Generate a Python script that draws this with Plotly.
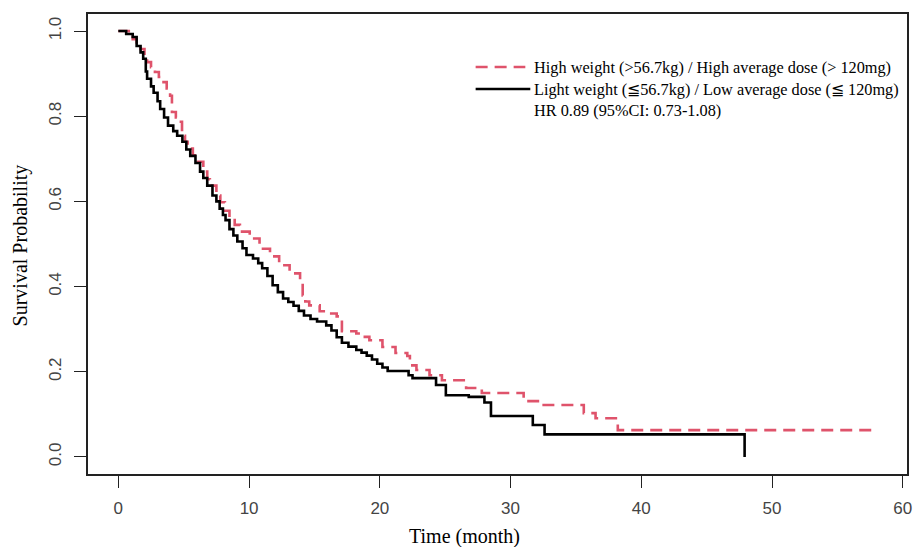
import plotly.graph_objects as go

# Kaplan-Meier step data (time in months, survival after the step)
light_time = [0, 0.6, 1.1, 1.4, 1.7, 1.9, 2.1, 2.2, 2.5, 2.7, 3.0, 3.2, 3.5, 3.8, 4.2, 4.5, 4.9,
              5.2, 5.5, 5.9, 6.25, 6.5, 6.8, 7.2, 7.5, 7.75, 8.0, 8.2, 8.5, 8.8, 9.1, 9.5, 9.8,
              10.3, 10.7, 11.0, 11.4, 11.8, 12.2, 12.6, 13.0, 13.4, 13.8, 14.2, 14.7, 15.2, 15.9,
              16.3, 16.7, 17.1, 17.6, 18.2, 18.6, 19.0, 19.4, 19.8, 20.2, 20.6, 22.2, 22.5, 24.3,
              25.05, 26.8, 28.0, 28.5, 31.7, 32.6, 47.9]
light_surv = [1.0, 0.993, 0.986, 0.965, 0.95, 0.935, 0.905, 0.888, 0.87, 0.855, 0.835, 0.817, 0.797,
              0.778, 0.765, 0.754, 0.74, 0.722, 0.707, 0.69, 0.67, 0.655, 0.637, 0.614, 0.6, 0.583,
              0.568, 0.556, 0.535, 0.52, 0.506, 0.49, 0.474, 0.466, 0.455, 0.443, 0.425, 0.403,
              0.387, 0.372, 0.364, 0.355, 0.343, 0.332, 0.324, 0.318, 0.309, 0.297, 0.281, 0.268,
              0.259, 0.251, 0.245, 0.238, 0.229, 0.219, 0.21, 0.202, 0.192, 0.185, 0.169, 0.145,
              0.141, 0.128, 0.096, 0.075, 0.053, 0.0]

high_time = [0, 0.8, 1.1, 1.4, 1.7, 2.0, 2.2, 2.5, 2.8, 3.1, 3.35, 3.7, 3.96, 4.1, 4.4, 4.6, 4.87,
             5.1, 5.3, 5.7, 6.0, 6.5, 6.8, 7.0, 7.5, 7.8, 8.15, 8.5, 8.9, 9.3, 10.05, 10.8, 11.6,
             12.3, 13.1, 13.9, 14.1, 14.3, 14.6, 15.4, 16.1, 16.7, 17.1, 18.2, 18.7, 19.2, 20.2,
             21.2, 22.1, 22.3, 22.8, 23.8, 24.75, 26.6, 27.8, 31.0, 32.4, 35.6, 36.5, 38.2, 58.0]
high_surv = [1.0, 0.99, 0.981, 0.97, 0.958, 0.94, 0.927, 0.915, 0.904, 0.892, 0.88, 0.865, 0.848,
             0.81, 0.797, 0.787, 0.754, 0.74, 0.724, 0.708, 0.693, 0.67, 0.652, 0.637, 0.614, 0.598,
             0.578, 0.56, 0.545, 0.529, 0.513, 0.489, 0.471, 0.45, 0.431, 0.412, 0.379, 0.365,
             0.356, 0.342, 0.337, 0.33, 0.295, 0.29, 0.282, 0.274, 0.258, 0.244, 0.237, 0.215,
             0.204, 0.192, 0.18, 0.162, 0.15, 0.131, 0.122, 0.103, 0.091, 0.063, 0.063]

x_ticks = [0, 10, 20, 30, 40, 50, 60]
y_ticks = [0.0, 0.2, 0.4, 0.6, 0.8, 1.0]
y_tick_labels = ["0.0", "0.2", "0.4", "0.6", "0.8", "1.0"]

legend_labels = ["High weight (>56.7kg) / High average dose (> 120mg)",
                 "Light weight (≦56.7kg) / Low average dose (≦ 120mg)",
                 "HR 0.89 (95%CI: 0.73-1.08)"]

RED = "#DF536B"
W, H = 914, 547
ML, MR, MT, MB = 88, 2, 14, 73
PW, PH = W - ML - MR, H - MT - MB

fig = go.Figure()
fig.add_trace(go.Scatter(x=high_time, y=high_surv, mode="lines", line_shape="hv",
                         line=dict(color=RED, width=2.6, dash="12px,7px"), showlegend=False))
fig.add_trace(go.Scatter(x=light_time, y=light_surv, mode="lines", line_shape="hv",
                         line=dict(color="black", width=2.6), showlegend=False))

axis_common = dict(showgrid=False, zeroline=False, showline=True, mirror=True,
                   linecolor="#222", linewidth=1.5, ticks="outside", ticklen=12,
                   tickwidth=1.3, tickcolor="#222", ticklabeloverflow="allow",
                   tickfont=dict(family="Liberation Sans, Arial", size=17, color="#444"))

fig.update_xaxes(range=[-2.32, 60.32], tickvals=x_ticks, ticklabelstandoff=6, **axis_common)
fig.update_yaxes(range=[-0.04, 1.04], tickvals=y_ticks, ticktext=y_tick_labels,
                 tickangle=-90, ticklabelstandoff=6, **axis_common)

def pxx(p):
    return (p - ML) / PW

def pxy(p):
    return 1 - (p - MT) / PH

# legend sample lines (paper coordinates)
fig.add_shape(type="line", xref="paper", yref="paper",
              x0=pxx(478), x1=pxx(528), y0=pxy(67), y1=pxy(67),
              line=dict(color=RED, width=2.6, dash="12px,7px"))
fig.add_shape(type="line", xref="paper", yref="paper",
              x0=pxx(478), x1=pxx(533), y0=pxy(89), y1=pxy(89),
              line=dict(color="black", width=2.6))

for lab, yp in zip(legend_labels, [67, 89, 110]):
    fig.add_annotation(text=lab, xref="paper", yref="paper",
                       x=pxx(535), y=pxy(yp),
                       xanchor="left", yanchor="middle", showarrow=False,
                       font=dict(family="Liberation Serif, Times New Roman", size=16.3, color="black"))

# axis titles
fig.add_annotation(text="Time (month)", xref="paper", yref="paper",
                   x=pxx(467), y=pxy(536),
                   xanchor="center", yanchor="middle", showarrow=False,
                   font=dict(family="Liberation Serif, Times New Roman", size=20, color="black"))
fig.add_annotation(text="Survival Probability", xref="paper", yref="paper",
                   x=pxx(20), y=pxy(245),
                   xanchor="center", yanchor="middle", textangle=-90, showarrow=False,
                   font=dict(family="Liberation Serif, Times New Roman", size=20, color="black"))

fig.update_layout(width=W, height=H, margin=dict(l=ML, r=MR, t=MT, b=MB),
                  plot_bgcolor="white", paper_bgcolor="white", showlegend=False)

fig.write_html("out.html", config={"displayModeBar": False},
               post_script="document.body.style.margin='0';document.body.style.overflow='hidden';")
